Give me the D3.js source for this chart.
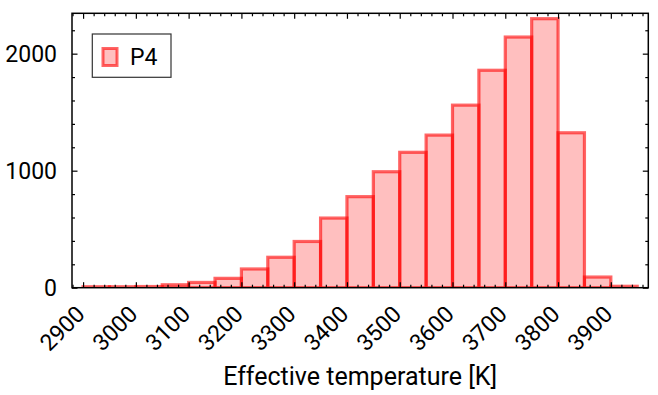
<!DOCTYPE html>
<html><head><meta charset="utf-8">
<script src="https://cdn.jsdelivr.net/npm/d3@7"></script>
<style>
body{margin:0;background:#fff}
text{font-family:Roboto, "DejaVu Sans", sans-serif;fill:#000}
</style>
</head><body>
<svg id="c" width="658" height="395"></svg>
<script>
// ---- data ----
const binStarts = [2900,2950,3000,3050,3100,3150,3200,3250,3300,3350,3400,3450,3500,3550,3600,3650,3700,3750,3800,3850,3900];
const binWidth = 50;
const counts = [8,8,10,25,45,80,160,260,395,595,778,991,1157,1304,1560,1858,2142,2299,1324,91,12];
const xTickValues = [2900,3000,3100,3200,3300,3400,3500,3600,3700,3800,3900];
const yTickValues = [0,1000,2000];
const seriesName = "P4";
const xLabel = "Effective temperature [K]";

// ---- layout ----
const L = 72, R = 648.3, T = 13.3, B = 287.7;
const fs = 23;
const svg = d3.select("#c");

const xMin = d3.min(binStarts), xMax = d3.max(binStarts) + binWidth;
const pad = (xMax - xMin) * 0.02;
const x = d3.scaleLinear().domain([xMin - pad, xMax + pad]).range([L, R]);
const y = d3.scaleLinear().domain([0, d3.max(counts) * 1.02]).range([B, T]);

svg.append("clipPath").attr("id","clip").append("rect")
  .attr("x", L).attr("y", T).attr("width", R - L).attr("height", B - T);

const bars = svg.append("g").attr("clip-path","url(#clip)");
bars.selectAll("rect").data(binStarts).join("rect")
  .attr("x", (d) => x(d))
  .attr("width", (d) => x(d + binWidth) - x(d))
  .attr("y", (d, i) => y(counts[i]))
  .attr("height", (d, i) => y(0) - y(counts[i]))
  .attr("fill", "rgba(255,0,0,0.25)")
  .attr("stroke", "rgba(255,0,0,0.6)")
  .attr("stroke-width", 3.2);

// ---- axes (inside ticks, all four sides) ----
const xMinor = d3.range(2880, 3980, 20).filter(v => v % 100 !== 0 && v >= x.domain()[0] && v <= x.domain()[1]);
const yMinor = d3.range(0, y.domain()[1], 200).filter(v => v % 1000 !== 0);
function ax(gen, pos, vals, size) {
  const g = svg.append("g").attr("transform", pos)
    .call(gen.tickValues(vals).tickSize(-size).tickFormat(""));
  g.select(".domain").remove();
  g.selectAll("line").attr("stroke", "#000").attr("stroke-width", 1.2);
}
ax(d3.axisBottom(x), `translate(0,${B})`, xTickValues, 5.5);
ax(d3.axisBottom(x), `translate(0,${B})`, xMinor, 3);
ax(d3.axisTop(x), `translate(0,${T})`, xTickValues, 5.5);
ax(d3.axisTop(x), `translate(0,${T})`, xMinor, 3);
ax(d3.axisLeft(y), `translate(${L},0)`, yTickValues, 5.5);
ax(d3.axisLeft(y), `translate(${L},0)`, yMinor, 3);
ax(d3.axisRight(y), `translate(${R},0)`, yTickValues, 5.5);
ax(d3.axisRight(y), `translate(${R},0)`, yMinor, 3);

svg.append("rect").attr("x", L).attr("y", T).attr("width", R - L).attr("height", B - T)
  .attr("fill", "none").attr("stroke", "#000").attr("stroke-width", 1.5);

// tick labels
svg.append("g").selectAll("text").data(xTickValues).join("text")
  .attr("transform", d => `translate(${x(d) + 3},${B + 28}) rotate(-45)`)
  .attr("text-anchor", "end").attr("font-size", fs)
  .text(d => d);
svg.append("g").selectAll("text").data(yTickValues).join("text")
  .attr("x", L - 15).attr("y", d => y(d)).attr("dy", "0.36em")
  .attr("text-anchor", "end").attr("font-size", fs)
  .text(d => d);

svg.append("text").attr("x", (L + R) / 2).attr("y", 385)
  .attr("text-anchor", "middle").attr("font-size", 25).text(xLabel);

// legend
const lg = svg.append("g");
lg.append("rect").attr("x", 92.3).attr("y", 34).attr("width", 78.7).attr("height", 43.3)
  .attr("fill", "#fff").attr("stroke", "#333").attr("stroke-width", 1.2);
lg.append("rect").attr("x", 103).attr("y", 48.5).attr("width", 14).attr("height", 17)
  .attr("fill", "rgba(255,0,0,0.25)").attr("stroke", "rgba(255,0,0,0.6)").attr("stroke-width", 3);
lg.append("text").attr("x", 130).attr("y", 65.3).attr("font-size", fs).text(seriesName);
</script>
</body></html>
